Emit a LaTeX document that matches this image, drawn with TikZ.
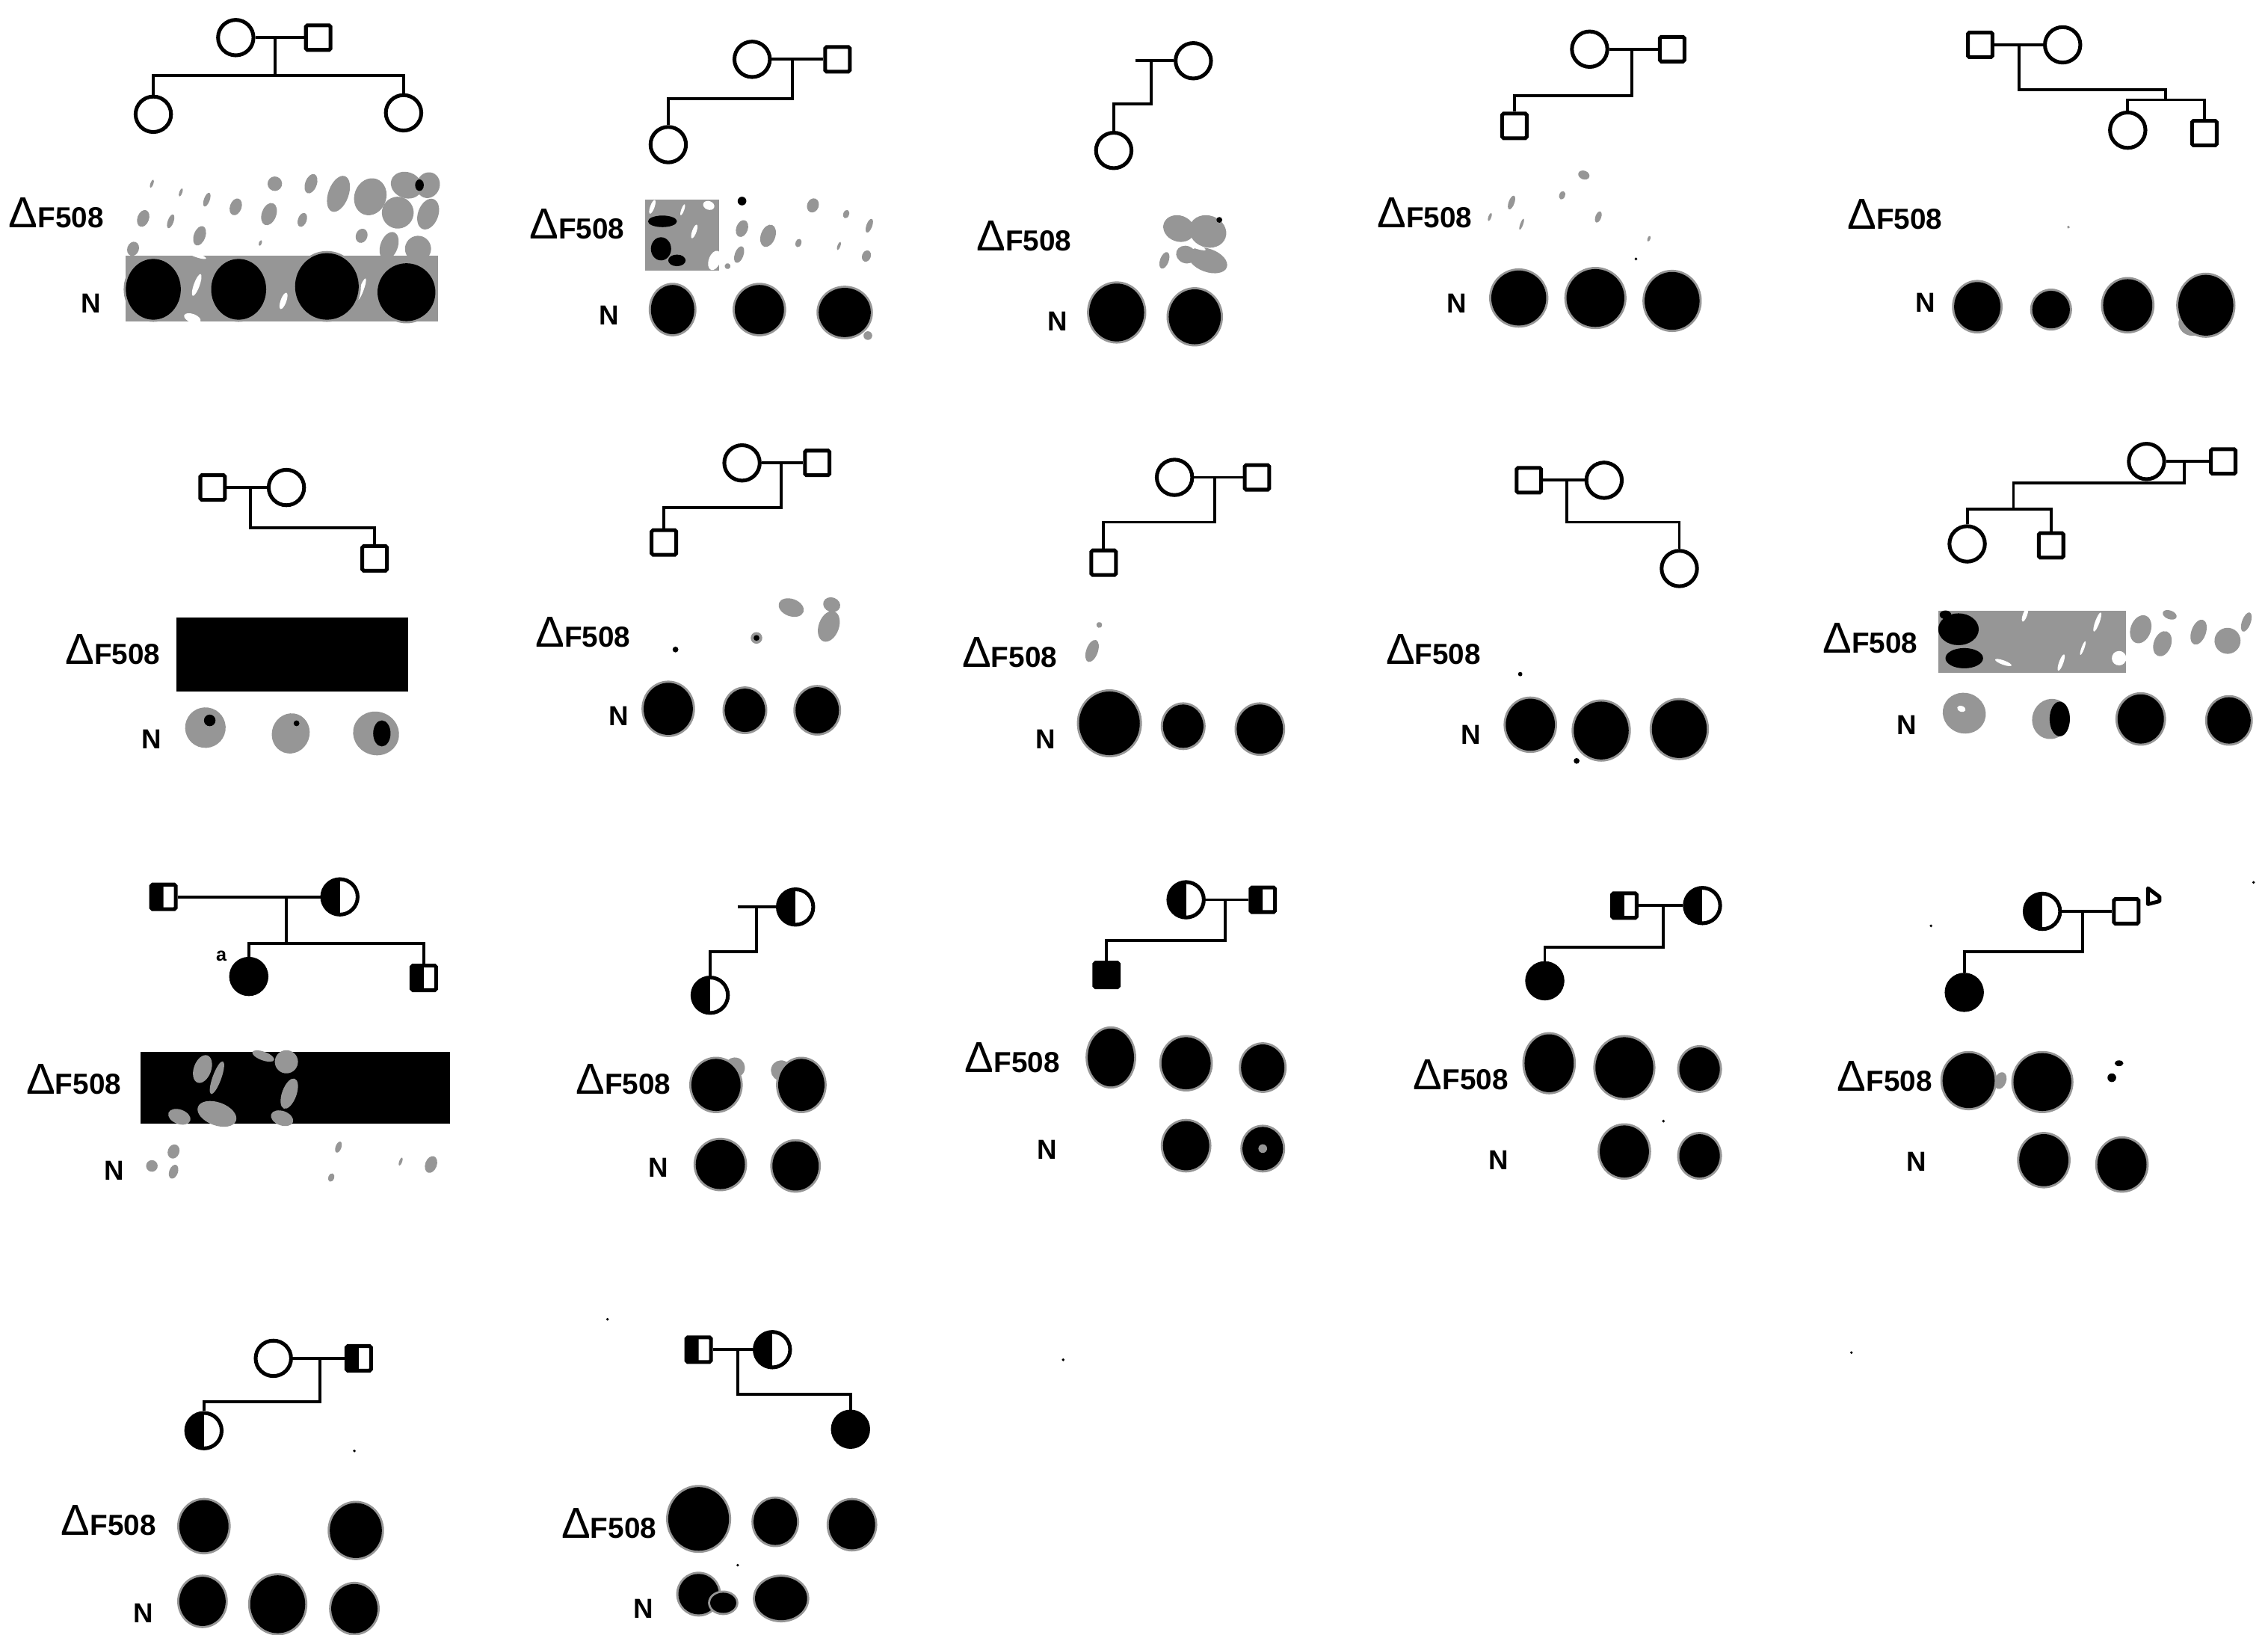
\documentclass[tikz,border=0pt]{standalone}
\usepackage{fontspec}
\setmainfont{Liberation Sans}
\definecolor{smear}{HTML}{969696}
\tikzset{
  x=1pt,y=-1pt,
  fem/.style={circle,draw=black,line width=2.6pt,fill=white,minimum size=24.5pt,inner sep=0pt},
  mal/.style={rectangle,rounded corners=1pt,draw=black,line width=2.6pt,fill=white,minimum size=17pt,inner sep=0pt},
  halfshade/.style={path picture={\fill[black] (path picture bounding box.south west) rectangle (path picture bounding box.north);}},
  femhalf/.style={fem,halfshade},
  malhalf/.style={mal,halfshade},
  femfull/.style={fem,fill=black},
  malfull/.style={mal,fill=black},
  ped/.style={draw=black,line width=2pt},
  lab/.style={inner sep=0pt,anchor=east,font=\fontsize{20}{22}\selectfont\bfseries},
  nlab/.style={inner sep=0pt,font=\fontsize{19}{22}\selectfont\bfseries},
}
\newcommand\dlab[3]{\node[lab] (#1) at (#2,#3-2) {{\fontsize{30}{30}\selectfont\mdseries Δ}F508};}
\newcommand\blots[1]{\foreach \x/\y/\a/\b in {#1}{\fill[smear] (\x,\y) ellipse [x radius=\a+1.5,y radius=\b+1.5];\fill[black] (\x,\y) ellipse [x radius=\a,y radius=\b];}}
\newcommand\patches[1]{\foreach \x/\y/\a/\b in {#1}{\fill[smear,rotate around={-20:(\x,\y)}] (\x,\y) ellipse [x radius=\a,y radius=\b];}}
\newcommand\flecks[1]{\foreach \x/\y/\a/\b in {#1}{\fill[white,rotate around={-20:(\x,\y)}] (\x,\y) ellipse [x radius=\a,y radius=\b];}}
\newcommand\darks[1]{\foreach \x/\y/\a/\b in {#1}{\fill[black] (\x,\y) ellipse [x radius=\a,y radius=\b];}}
\begin{document}
\begin{tikzpicture}
\fill[white] (0,0) rectangle (1568,1130);
\useasboundingbox (0,0) rectangle (1568,1130);

% ---------- autoradiograph signals ----------
% P1
\patches{190/127/5/5,234/134/7/13,256/136/11/13,281/128/11/9,296/128/8/9,275/147/11/11,296/148/7/11,186/148/5/8,163/143/4/6,138/163/4/7,99/151/4/6,250/163/4/5,269/170/6/10,289/172/9/9,215/127/4/7,209/152/3/5,143/138/2/5,118/153/2/5,105/127/1/3,125/133/1/3,180/168/1/2}
\darks{290/128/3/4}
\fill[smear] (87,177) rectangle (303,222);
\patches{92/172/4/5}
\flecks{136/197/2/8,196/208/2/6,133/220/6/3,250/200/1.5/8,135/176/8/1.5}
\blots{106/200/19/21,165/200/19/21,226/198/22/23,281/202/20/20}
% P2
\fill[smear] (446,138) rectangle (497,187);
\flecks{451/143/1.5/5,490/142/4/3,494/180/4/7,480/160/1.5/5,472/145/1/4}
\darks{458/153/10/4,457/172/7/8,468/180/6/4,513/139/3/3}
\patches{513/158/4/6,531/163/5/8,562/142/4/5,511/176/3/6,601/156/2/5,599/177/3/4,580/170/1/3,585/148/2/3,552/168/2/3,503/184/2/2}
\blots{465/214/15/17,525/214/17/17,584/216/18/17}
\patches{600/232/3/3}
% P3
\patches{815/158/11/9,835/160/13/11,835/180/14/8,805/180/3/6,820/176/7/6}
\flecks{826/170/8/1.5}
\darks{843/152/2/2}
\blots{772/216/19/20,826/219/18/19}
% P4
\patches{1095/121/4/3,1080/135/2/3,1105/150/2/4,1045/140/2/5,1030/150/1/3,1140/165/1/2,1052/155/1/4}
\darks{1131/179/1/1}
\blots{1050/206/19/19,1103/206/20/20,1156/208/19/20}
% P5
\patches{1430/157/1/1,1515/224/9/8}
\blots{1367/212/16/17,1418/214/13/13,1471/211/17/18,1525/211/19/21}
% P6
\fill[black] (122,427) rectangle (282,478);
\patches{142/503/14/14,201/507/13/14,260/507/16/15}
\darks{145/498/4/4,264/507/6/9,205/500/2/2}
% P7
\patches{547/420/9/6,573/433/7/11,523/441/4/4,575/418/6/5}
\darks{467/449/2/2,523/441/2/2}
\blots{462/490/17/18,515/491/14/15,565/491/15/16}
% P8
\patches{755/450/4/8,760/432/2/2}
\blots{767/500/21/22,818/502/14/15,871/504/16/17}
% P9
\darks{1051/466/1.5/1.5,1090/526/2/2}
\blots{1058/501/17/18,1107/505/19/20,1161/504/19/20}
% P10
\fill[smear] (1340,422) rectangle (1470,465);
\patches{1480/435/7/10,1495/445/6/9,1520/437/5/9,1540/443/9/9,1553/430/3/7,1500/425/5/3}
\flecks{1400/425/1.5/5,1425/458/1.5/6,1450/430/1.5/7,1385/458/6/1.5,1440/448/1/5,1465/455/5/5}
\darks{1354/435/14/11,1358/455/13/7,1345/425/4/3}
\patches{1358/493/15/14,1418/497/13/14}
\flecks{1356/490/3/2}
\darks{1424/497/7/12}
\blots{1480/497/16/17,1541/498/15/16}
% P11
\fill[black] (97,727) rectangle (311,777);
\patches{140/739/6/10,150/770/14/8,198/734/8/8,200/756/5/11,195/773/8/5,182/730/8/3,124/772/8/5,150/745/3/12}
\patches{120/796/4/5,105/806/4/4,120/810/3/5,234/793/2/4,229/814/2/3,277/803/1/3,298/805/4/6}
% P12
\patches{508/738/7/7,540/740/7/7}
\blots{495/750/17/18,554/750/16/18,498/805/17/17,550/806/16/17}
% P13
\blots{768/731/16/20,820/735/17/18,873/738/15/16,820/792/16/17,873/794/14/15}
\patches{873/794/3/3}
% P14
\blots{1071/735/17/20,1123/738/20/21,1175/739/14/15,1123/796/17/18,1175/799/14/15}
\darks{1150/775/1/1}
% P15
\patches{1383/747/4/6}
\blots{1361/747/18/19,1412/748/20/20,1413/802/17/18,1467/805/17/18}
\darks{1465/735/3/2,1460/745/3/3}
% P16
\blots{141/1055/17/18,246/1058/18/19,140/1107/16/17,192/1109/19/20,245/1112/16/17}
% P17
\blots{483/1050/21/22,536/1052/15/16,589/1054/16/17,483/1102/14/14,500/1108/9/7,540/1105/18/15}
% specks
\darks{735/940/1/1,1280/935/1/1,420/912/1/1,1558/610/1/1,1335/640/1/1,245/1003/1/1,510/1082/1/1}

% ---------- labels ----------
\dlab{l1}{72}{149} \node[nlab] (n1) at (63,210) {N};
\dlab{l2}{432}{157} \node[nlab] (n2) at (421,218) {N};
\dlab{l3}{741}{165} \node[nlab] (n3) at (731,222) {N};
\dlab{l4}{1018}{149} \node[nlab] (n4) at (1007,210) {N};
\dlab{l5}{1343}{150} \node[nlab] (n5) at (1331,209) {N};
\dlab{l6}{111}{451} \node[nlab] (n6) at (105,511) {N};
\dlab{l7}{436}{439} \node[nlab] (n7) at (428,495) {N};
\dlab{l8}{731}{453} \node[nlab] (n8) at (723,511) {N};
\dlab{l9}{1024}{451} \node[nlab] (n9) at (1017,508) {N};
\dlab{l10}{1326}{443} \node[nlab] (n10) at (1318,501) {N};
\dlab{l11}{84}{748} \node[nlab] (n11) at (79,809) {N};
\dlab{l12}{464}{748} \node[nlab] (n12) at (455,807) {N};
\dlab{l13}{733}{733} \node[nlab] (n13) at (724,795) {N};
\dlab{l14}{1043}{745} \node[nlab] (n14) at (1036,802) {N};
\dlab{l15}{1336}{746} \node[nlab] (n15) at (1325,803) {N};
\dlab{l16}{108}{1053} \node[nlab] (n16) at (99,1115) {N};
\dlab{l17}{454}{1055} \node[nlab] (n17) at (445,1112) {N};

% ---------- pedigrees ----------
% P1
\coordinate (p1d) at (190,26); \coordinate (p1s) at (190,52);
\node[fem] (p1f) at (163,26) {}; \node[mal] (p1m) at (220,26) {};
\node[fem] (p1a) at (106,79) {}; \node[fem] (p1b) at (279,78) {};
\draw[ped] (p1f) -- (p1m); \draw[ped] (p1d) -- (p1s);
\draw[ped] (p1a) |- (p1s); \draw[ped] (p1b) |- (p1s);
% P2
\coordinate (p2d) at (548,41); \coordinate (p2s) at (548,68);
\node[fem] (p2f) at (520,41) {}; \node[mal] (p2m) at (579,41) {}; \node[fem] (p2a) at (462,100) {};
\draw[ped] (p2f) -- (p2m); \draw[ped] (p2d) -- (p2s) -| (p2a);
% P3
\coordinate (p3t) at (785,42); \coordinate (p3d) at (796,42); \coordinate (p3s) at (796,72);
\node[fem] (p3f) at (825,42) {}; \node[fem] (p3a) at (770,104) {};
\draw[ped] (p3t) -- (p3f); \draw[ped] (p3d) -- (p3s) -| (p3a);
% P4
\coordinate (p4d) at (1128,34); \coordinate (p4s) at (1128,66);
\node[fem] (p4f) at (1099,34) {}; \node[mal] (p4m) at (1156,34) {}; \node[mal] (p4a) at (1047,87) {};
\draw[ped] (p4f) -- (p4m); \draw[ped] (p4d) -- (p4s) -| (p4a);
% P5
\coordinate (p5d) at (1396,31); \coordinate (p5s) at (1396,62); \coordinate (p5k) at (1497,62); \coordinate (p5j) at (1497,69);
\node[mal] (p5m) at (1369,31) {}; \node[fem] (p5f) at (1426,31) {};
\node[fem] (p5a) at (1471,90) {}; \node[mal] (p5b) at (1524,92) {};
\draw[ped] (p5m) -- (p5f); \draw[ped] (p5d) -- (p5s) -- (p5k) -- (p5j);
\draw[ped] (p5a) |- (p5j); \draw[ped] (p5b) |- (p5j);
% P6
\coordinate (p6d) at (173,337); \coordinate (p6s) at (173,365);
\node[mal] (p6m) at (147,337) {}; \node[fem] (p6f) at (198,337) {}; \node[mal] (p6a) at (259,386) {};
\draw[ped] (p6m) -- (p6f); \draw[ped] (p6d) -- (p6s) -| (p6a);
% P7
\coordinate (p7d) at (540,320); \coordinate (p7s) at (540,351);
\node[fem] (p7f) at (513,320) {}; \node[mal] (p7m) at (565,320) {}; \node[mal] (p7a) at (459,375) {};
\draw[ped] (p7f) -- (p7m); \draw[ped] (p7d) -- (p7s) -| (p7a);
% P8
\coordinate (p8d) at (840,330); \coordinate (p8s) at (840,361);
\node[fem] (p8f) at (812,330) {}; \node[mal] (p8m) at (869,330) {}; \node[mal] (p8a) at (763,389) {};
\draw[ped] (p8f) -- (p8m); \draw[ped] (p8d) -- (p8s) -| (p8a);
% P9
\coordinate (p9d) at (1083,332); \coordinate (p9s) at (1083,361);
\node[mal] (p9m) at (1057,332) {}; \node[fem] (p9f) at (1109,332) {}; \node[fem] (p9a) at (1161,393) {};
\draw[ped] (p9m) -- (p9f); \draw[ped] (p9d) -- (p9s) -| (p9a);
% P10
\coordinate (p10d) at (1510,319); \coordinate (p10s) at (1510,334); \coordinate (p10k) at (1392,334); \coordinate (p10j) at (1392,352);
\node[fem] (p10f) at (1484,319) {}; \node[mal] (p10m) at (1537,319) {};
\node[fem] (p10a) at (1360,376) {}; \node[mal] (p10b) at (1418,377) {};
\draw[ped] (p10f) -- (p10m); \draw[ped] (p10d) -- (p10s) -- (p10k) -- (p10j);
\draw[ped] (p10a) |- (p10j); \draw[ped] (p10b) |- (p10j);
% P11
\coordinate (p11d) at (198,620); \coordinate (p11s) at (198,652);
\node[malhalf] (p11m) at (113,620) {}; \node[femhalf] (p11f) at (235,620) {};
\node[femfull] (p11a) at (172,675) {}; \node[malhalf] (p11b) at (293,676) {};
\draw[ped] (p11m) -- (p11f); \draw[ped] (p11d) -- (p11s);
\draw[ped] (p11a) |- (p11s); \draw[ped] (p11b) |- (p11s);
\node[inner sep=0pt,font=\fontsize{13}{14}\selectfont\bfseries] (p11t) at (153,661) {a};
% P12
\coordinate (p12t) at (510,627); \coordinate (p12d) at (523,627); \coordinate (p12s) at (523,658);
\node[femhalf] (p12f) at (550,627) {}; \node[femhalf] (p12a) at (491,688) {};
\draw[ped] (p12t) -- (p12f); \draw[ped] (p12d) -- (p12s) -| (p12a);
% P13
\coordinate (p13d) at (847,622); \coordinate (p13s) at (847,650);
\node[femhalf] (p13f) at (820,622) {}; \node[malhalf] (p13m) at (873,622) {}; \node[malfull] (p13a) at (765,674) {};
\draw[ped] (p13f) -- (p13m); \draw[ped] (p13d) -- (p13s) -| (p13a);
% P14
\coordinate (p14d) at (1150,626); \coordinate (p14s) at (1150,655);
\node[malhalf] (p14m) at (1123,626) {}; \node[femhalf] (p14f) at (1177,626) {}; \node[femfull] (p14a) at (1068,678) {};
\draw[ped] (p14m) -- (p14f); \draw[ped] (p14d) -- (p14s) -| (p14a);
% P15
\coordinate (p15d) at (1440,630); \coordinate (p15s) at (1440,658);
\node[femhalf] (p15f) at (1412,630) {}; \node[mal] (p15m) at (1470,630) {}; \node[femfull] (p15a) at (1358,686) {};
\draw[ped] (p15f) -- (p15m); \draw[ped] (p15d) -- (p15s) -| (p15a);
\draw[black,line width=2.6pt,line join=round] (1485,614) -- (1493,620) -- (1493,623) -- (1485,625) -- cycle;
% P16
\coordinate (p16d) at (221,939); \coordinate (p16s) at (221,969);
\node[fem] (p16f) at (189,939) {}; \node[malhalf] (p16m) at (248,939) {}; \node[femhalf] (p16a) at (141,989) {};
\draw[ped] (p16f) -- (p16m); \draw[ped] (p16d) -- (p16s) -| (p16a);
% P17
\coordinate (p17d) at (510,933); \coordinate (p17s) at (510,964);
\node[malhalf] (p17m) at (483,933) {}; \node[femhalf] (p17f) at (534,933) {}; \node[femfull] (p17a) at (588,988) {};
\draw[ped] (p17m) -- (p17f); \draw[ped] (p17d) -- (p17s) -| (p17a);
\end{tikzpicture}
\end{document}
